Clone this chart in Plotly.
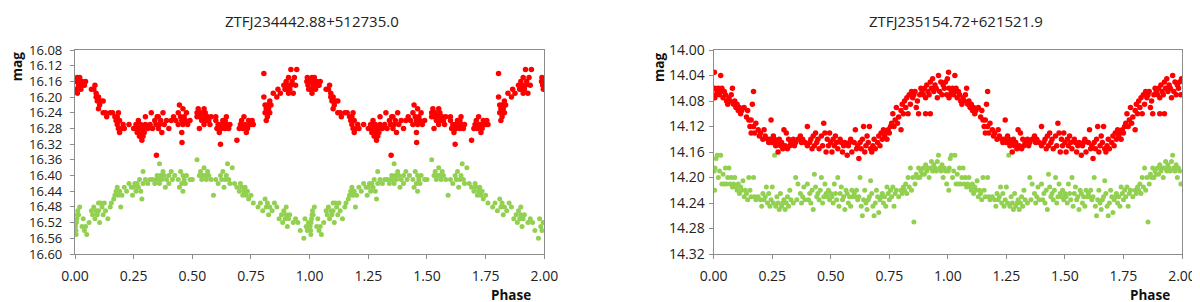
import plotly.graph_objects as go

# ---------------- Data (phase 0-1, folded light curves; plotted twice: 0-1 and 1-2) ----------------
# Left star: ZTFJ234442.88+512735.0
left_red_phase = [0.005,0.01,0.015,0.02,0.025,0.01,0.03,0.035,0.04,0.045,0.02,0.005,
    0.07,0.08,0.085,0.09,0.095,0.1,0.105,0.11,0.09,0.1,0.12,0.12,0.13,0.135,
    0.15,0.16,0.17,0.175,0.18,0.18,0.185,0.19,0.19,0.2,0.21,0.205,0.185,
    0.23,0.25,0.26,0.265,0.27,0.275,0.28,0.28,0.285,0.29,0.29,0.295,0.3,0.26,0.27,0.3,
    0.31,0.32,0.325,0.33,0.34,0.345,0.35,0.355,0.36,0.365,0.37,0.375,0.38,0.39,0.4,0.355,0.347,
    0.41,0.42,0.43,0.44,0.44,0.445,0.45,0.455,0.455,0.46,0.46,0.465,0.47,0.475,0.48,0.456,0.49,
    0.52,0.525,0.53,0.535,0.54,0.545,0.55,0.555,0.56,0.565,0.57,0.575,0.53,0.52,0.58,0.55,
    0.6,0.605,0.61,0.615,0.62,0.625,0.63,0.635,0.64,0.645,0.65,0.655,0.66,0.62,0.6,0.64,
    0.69,0.7,0.705,0.71,0.715,0.72,0.725,0.73,0.735,0.74,0.745,0.75,0.755,0.76,
    0.805,0.805,0.81,0.81,0.815,0.82,0.82,0.825,0.83,0.83,0.815,0.835,
    0.845,0.86,0.865,0.875,
    0.89,0.895,0.9,0.905,0.91,0.915,0.92,0.92,0.925,0.93,0.935,0.94,0.945,0.91,0.9,
    0.988,0.99,0.993,0.996,0.998]
left_red_mag = [16.16,16.15,16.17,16.16,16.18,16.19,16.16,16.17,16.17,16.16,16.15,16.18,
    16.18,16.18,16.17,16.20,16.21,16.20,16.22,16.21,16.19,16.23,16.21,16.24,16.24,16.25,
    16.24,16.24,16.25,16.26,16.27,16.25,16.28,16.26,16.29,16.28,16.28,16.27,16.24,
    16.27,16.28,16.27,16.29,16.28,16.30,16.27,16.29,16.31,16.28,16.30,16.29,16.27,16.28,16.26,16.25,
    16.28,16.27,16.24,16.28,16.26,16.27,16.25,16.28,16.27,16.26,16.29,16.24,16.27,16.26,16.28,16.25,16.348,
    16.26,16.25,16.26,16.27,16.24,16.22,16.25,16.26,16.29,16.23,16.27,16.25,16.26,16.24,16.27,16.316,16.26,
    16.24,16.23,16.25,16.24,16.26,16.25,16.27,16.24,16.26,16.25,16.26,16.27,16.28,16.25,16.25,16.23,
    16.26,16.28,16.27,16.29,16.27,16.28,16.26,16.27,16.28,16.25,16.27,16.28,16.27,16.32,16.25,16.26,
    16.31,16.28,16.27,16.26,16.28,16.25,16.27,16.29,16.28,16.26,16.27,16.27,16.26,16.27,
    16.14,16.20,16.22,16.24,16.23,16.22,16.25,16.23,16.21,16.24,16.26,16.22,
    16.19,16.20,16.18,16.19,
    16.17,16.18,16.16,16.17,16.15,16.18,16.13,16.17,16.16,16.19,16.15,16.17,16.13,16.19,16.18,
    16.16,16.15,16.17,16.18,16.16]

left_green_phase = [0.002,0.004,0.006,0.008,0.01,0.012,0.005,0.015,0.02,
    0.03,0.035,0.04,0.045,0.05,
    0.06,0.07,0.075,0.08,0.085,0.09,0.095,0.1,0.1,0.105,0.11,0.115,0.12,0.125,0.13,0.14,
    0.15,0.155,0.165,0.17,0.175,0.18,0.185,0.19,0.195,0.2,0.21,
    0.22,0.23,0.24,0.245,0.25,0.255,0.26,0.265,0.27,0.275,0.28,0.285,0.29,0.29,0.3,
    0.31,0.32,0.33,0.34,0.345,0.35,0.355,0.36,0.36,0.365,0.37,0.375,0.38,0.385,0.39,0.4,0.4,0.41,0.415,
    0.425,0.44,0.445,0.45,0.455,0.46,0.46,0.465,0.47,0.475,0.49,0.5,
    0.52,0.53,0.535,0.54,0.545,0.55,0.555,0.56,0.565,0.57,0.58,0.59,0.6,0.61,0.62,
    0.625,0.63,0.635,0.64,0.645,0.65,0.655,0.66,0.67,0.68,0.69,0.7,0.705,
    0.71,0.715,0.72,0.725,0.73,0.735,0.74,0.75,0.76,
    0.78,0.79,0.8,0.81,0.815,0.82,0.825,0.83,0.84,0.85,0.86,0.87,0.88,0.885,0.89,0.895,0.9,0.9,0.905,0.91,0.915,
    0.93,0.94,0.95,0.96,0.975,0.98,0.985,0.99,0.995]
left_green_mag = [16.53,16.54,16.52,16.51,16.50,16.49,16.55,16.50,16.48,
    16.53,16.51,16.54,16.53,16.55,
    16.52,16.49,16.50,16.48,16.51,16.49,16.50,16.47,16.49,16.52,16.47,16.48,16.50,16.47,16.49,16.51,
    16.48,16.47,16.46,16.45,16.44,16.43,16.45,16.44,16.48,16.45,16.43,
    16.44,16.42,16.43,16.45,16.43,16.42,16.44,16.42,16.43,16.41,16.44,16.46,16.39,16.42,16.41,
    16.42,16.41,16.41,16.42,16.41,16.40,16.41,16.37,16.42,16.40,16.41,16.39,16.40,16.43,16.41,16.42,16.40,16.39,16.41,
    16.40,16.41,16.43,16.39,16.42,16.40,16.44,16.41,16.42,16.40,16.41,16.41,
    16.36,16.40,16.39,16.41,16.40,16.38,16.40,16.41,16.39,16.40,16.41,16.45,16.41,16.42,16.40,
    16.41,16.39,16.43,16.41,16.40,16.37,16.41,16.42,16.38,16.42,16.43,16.44,16.42,
    16.43,16.45,16.44,16.43,16.45,16.44,16.46,16.45,16.47,
    16.48,16.47,16.49,16.46,16.48,16.47,16.50,16.48,16.49,16.47,16.48,16.51,16.50,16.52,16.49,16.51,16.50,16.48,16.53,16.51,16.50,
    16.52,16.51,16.52,16.54,16.56,16.51,16.53,16.54,16.52]

# Right star: ZTFJ235154.72+621521.9
right_red_phase = [0.003,0.005,0.005,0.01,0.015,0.02,0.025,0.03,0.03,0.035,0.04,0.045,0.05,
    0.055,0.06,0.065,0.07,0.075,0.08,0.085,0.09,0.095,0.1,0.105,0.11,0.115,0.12,0.13,0.14,0.145,0.15,0.16,0.17,0.165,
    0.155,0.16,0.17,0.175,0.18,0.19,0.195,0.2,0.21,0.215,0.22,0.23,0.235,0.24,0.245,0.25,0.255,0.26,0.265,
    0.27,0.275,0.28,0.285,0.29,0.295,0.3,0.305,0.31,0.315,0.32,0.325,0.33,0.34,0.345,0.35,0.36,0.37,0.375,0.38,0.39,0.4,0.4,0.41,0.415,0.42,
    0.425,0.43,0.435,0.44,0.445,0.45,0.46,0.465,0.47,0.475,0.48,0.485,0.49,0.495,0.5,0.505,0.51,0.515,0.52,0.525,0.53,0.54,0.545,0.55,
    0.555,0.56,0.57,0.575,0.58,0.585,0.59,0.6,0.605,0.61,0.615,0.62,0.625,0.63,0.635,0.64,0.645,0.65,0.655,0.66,0.665,0.67,0.675,0.68,0.685,0.69,0.7,
    0.705,0.71,0.715,0.72,0.725,0.73,0.735,0.74,0.745,0.75,0.755,0.76,0.765,0.77,0.775,0.78,0.785,0.79,0.8,0.8,
    0.805,0.81,0.815,0.82,0.825,0.83,0.835,0.84,0.845,0.85,0.855,0.86,0.865,0.87,0.875,0.88,0.885,0.89,0.895,0.9,
    0.905,0.91,0.915,0.92,0.925,0.93,0.935,0.94,0.945,0.95,0.955,0.96,0.965,0.97,0.975,0.98,0.985,0.99,0.995,0.998,0.905,0.925]
right_red_mag = [14.035,14.060,14.075,14.070,14.065,14.060,14.070,14.040,14.065,14.060,14.075,14.065,14.070,
    14.080,14.085,14.075,14.080,14.070,14.060,14.085,14.080,14.090,14.085,14.095,14.090,14.100,14.095,14.090,14.105,14.095,14.110,14.110,14.065,14.085,
    14.120,14.130,14.120,14.130,14.115,14.125,14.135,14.130,14.140,14.125,14.135,14.140,14.145,14.140,14.110,14.145,14.135,14.140,14.150,
    14.145,14.160,14.140,14.150,14.145,14.155,14.125,14.150,14.130,14.155,14.140,14.150,14.145,14.140,14.150,14.145,14.140,14.135,14.145,14.140,14.145,14.120,14.150,14.145,14.140,14.155,
    14.135,14.150,14.130,14.145,14.140,14.155,14.135,14.150,14.115,14.130,14.160,14.140,14.150,14.130,14.145,14.160,14.140,14.150,14.135,14.145,14.155,14.140,14.145,14.160,
    14.150,14.145,14.165,14.150,14.145,14.140,14.160,14.145,14.125,14.155,14.150,14.170,14.145,14.155,14.140,14.120,14.160,14.150,14.135,14.145,14.120,14.155,14.160,14.150,14.140,14.155,14.145,
    14.135,14.150,14.130,14.140,14.125,14.135,14.130,14.140,14.125,14.130,14.120,14.115,14.100,14.120,14.110,14.090,14.115,14.105,14.095,14.125,
    14.085,14.100,14.080,14.090,14.075,14.100,14.070,14.085,14.065,14.075,14.070,14.065,14.090,14.080,14.100,14.070,14.060,14.065,14.070,14.060,
    14.075,14.055,14.065,14.070,14.050,14.060,14.045,14.065,14.055,14.060,14.075,14.040,14.065,14.050,14.070,14.055,14.060,14.050,14.070,14.045,14.100,14.100]

right_green_phase = [0.002,0.004,0.006,0.01,0.015,0.02,0.025,0.03,0.035,0.04,0.045,0.05,0.055,0.06,0.065,
    0.07,0.075,0.08,0.085,0.09,0.095,0.1,0.105,0.11,0.115,0.12,0.125,0.13,0.135,0.14,0.145,0.15,0.155,0.16,0.17,0.175,
    0.18,0.19,0.2,0.205,0.21,0.215,0.22,0.225,0.23,0.235,0.24,0.245,0.25,0.255,0.26,0.265,0.27,0.275,0.28,0.285,0.29,0.295,0.3,
    0.305,0.31,0.315,0.32,0.325,0.33,0.34,0.35,0.355,0.36,0.37,0.375,0.38,0.385,0.39,0.4,0.405,0.41,0.415,0.42,0.425,0.43,0.435,0.44,0.445,0.45,
    0.455,0.46,0.465,0.47,0.475,0.48,0.485,0.49,0.495,0.5,0.505,0.51,0.515,0.52,0.525,0.53,0.535,0.54,0.545,0.55,0.555,0.56,0.565,0.57,0.575,0.58,0.585,0.59,0.595,0.6,
    0.605,0.61,0.615,0.62,0.625,0.63,0.635,0.64,0.645,0.65,0.655,0.66,0.665,0.67,0.675,0.68,0.685,0.69,0.695,0.7,0.705,0.71,0.715,0.72,0.725,0.73,0.735,0.74,0.745,0.75,
    0.755,0.76,0.765,0.77,0.775,0.78,0.79,0.8,0.805,0.81,0.815,0.82,0.825,0.83,0.835,0.84,0.845,0.85,0.855,0.86,0.865,0.87,0.875,0.88,0.885,0.89,0.895,
    0.9,0.905,0.91,0.915,0.92,0.925,0.93,0.935,0.94,0.945,0.95,0.955,0.96,0.965,0.97,0.975,0.98,0.985,0.99,0.995]
right_green_mag = [14.190,14.220,14.185,14.170,14.165,14.200,14.190,14.165,14.210,14.195,14.210,14.185,14.210,14.200,14.185,
    14.210,14.200,14.215,14.210,14.200,14.215,14.220,14.210,14.225,14.215,14.220,14.205,14.230,14.220,14.225,14.235,14.200,14.220,14.230,14.200,14.230,
    14.235,14.230,14.235,14.245,14.225,14.235,14.230,14.215,14.240,14.225,14.245,14.235,14.215,14.240,14.165,14.245,14.230,14.240,14.250,14.225,14.245,14.240,14.235,
    14.250,14.240,14.230,14.245,14.220,14.235,14.240,14.200,14.235,14.210,14.225,14.240,14.230,14.215,14.235,14.210,14.235,14.225,14.240,14.220,14.250,14.195,14.215,14.230,14.225,14.235,
    14.220,14.200,14.240,14.230,14.210,14.225,14.230,14.220,14.235,14.225,14.230,14.240,14.210,14.225,14.235,14.200,14.245,14.225,14.215,14.235,14.230,14.250,14.220,14.225,14.240,14.230,14.245,14.220,14.230,14.225,
    14.230,14.220,14.235,14.230,14.200,14.245,14.260,14.235,14.220,14.240,14.250,14.235,14.230,14.205,14.225,14.245,14.260,14.240,14.220,14.230,14.255,14.235,14.230,14.225,14.240,14.230,14.245,14.215,14.225,14.235,
    14.220,14.230,14.215,14.245,14.225,14.220,14.230,14.220,14.225,14.215,14.220,14.210,14.225,14.200,14.215,14.185,14.220,14.200,14.270,14.210,14.195,14.200,14.185,14.200,14.190,14.195,14.185,
    14.195,14.180,14.190,14.185,14.200,14.185,14.175,14.190,14.180,14.185,14.190,14.175,14.165,14.185,14.190,14.180,14.200,14.185,14.190,14.210]

titles = ["ZTFJ234442.88+512735.0", "ZTFJ235154.72+621521.9"]
x_ticks = [0.0, 0.25, 0.5, 0.75, 1.0, 1.25, 1.5, 1.75, 2.0]
left_y_ticks = [16.08,16.12,16.16,16.20,16.24,16.28,16.32,16.36,16.40,16.44,16.48,16.52,16.56,16.60]
right_y_ticks = [14.00,14.04,14.08,14.12,14.16,14.20,14.24,14.28,14.32]

RED = "#FF0000"
GREEN = "#92D050"
AXIS = "#8C8C8C"
FONT = "Open Sans"


def two_cycles(phase, mag):
    return list(phase) + [p + 1 for p in phase], list(mag) + list(mag)


fig = go.Figure()

panels = [
    ("x", "y", left_red_phase, left_red_mag, left_green_phase, left_green_mag),
    ("x2", "y2", right_red_phase, right_red_mag, right_green_phase, right_green_mag),
]
for xa, ya, rp, rm, gp, gm in panels:
    gx, gy = two_cycles(gp, gm)
    rx, ry = two_cycles(rp, rm)
    fig.add_trace(go.Scatter(x=gx, y=gy, mode="markers", xaxis=xa, yaxis=ya,
                             marker=dict(color=GREEN, size=5, line=dict(width=0)),
                             showlegend=False, hoverinfo="skip"))
    fig.add_trace(go.Scatter(x=rx, y=ry, mode="markers", xaxis=xa, yaxis=ya,
                             marker=dict(color=RED, size=5.5, line=dict(width=0)),
                             showlegend=False, hoverinfo="skip"))

W, H = 1200, 302
ML, MR, MT, MB = 67, 22, 42, 56
pw = W - ML - MR
dom_left = [0, (538 - ML) / pw]
dom_right = [(708 - ML) / pw, 1]

xcommon = dict(range=[0, 2], tickvals=x_ticks, ticktext=[f"{v:.2f}" for v in x_ticks],
               showgrid=False, zeroline=False, showline=True, linecolor=AXIS, linewidth=1.3,
               mirror=True, ticks="outside", ticklen=4, tickcolor=AXIS,
               tickfont=dict(family=FONT, size=14, color="#222222"), ticklabelstandoff=5)
ycommon = dict(autorange=False, showgrid=False, zeroline=False, showline=True, linecolor=AXIS,
               linewidth=1.3, mirror=True, ticks="outside", ticklen=4, tickcolor=AXIS)

fig.update_layout(
    width=W, height=H,
    margin=dict(l=ML, r=MR, t=MT, b=MB),
    paper_bgcolor="white", plot_bgcolor="white",
    xaxis=dict(domain=dom_left, anchor="y", **xcommon),
    yaxis=dict(domain=[0, 1], anchor="x", range=[16.60, 16.08], tickvals=left_y_ticks,
               ticktext=[f"{v:.2f}" for v in left_y_ticks],
               tickfont=dict(family=FONT, size=13, color="#222222"), ticklabelstandoff=5,
               **ycommon),
    xaxis2=dict(domain=dom_right, anchor="y2", **xcommon),
    yaxis2=dict(domain=[0, 1], anchor="x2", range=[14.32, 14.00], tickvals=right_y_ticks,
                ticktext=[f"{v:.2f}" for v in right_y_ticks],
                tickfont=dict(family=FONT, size=14, color="#222222"), ticklabelstandoff=1,
                **ycommon),
)


def px_x(px):
    return (px - ML) / pw


def px_y(py):
    return (H - MB - py) / (H - MT - MB)


ann = []
for cx, t in [(305, titles[0]), (951, titles[1])]:
    ann.append(dict(text=t, x=px_x(cx), y=px_y(13), xref="paper", yref="paper",
                    showarrow=False, xanchor="center", yanchor="middle",
                    font=dict(family=FONT, size=15, color="#222222")))
for cx in [505, 1146]:
    ann.append(dict(text="<b>Phase</b>", x=px_x(cx), y=px_y(287), xref="paper", yref="paper",
                    showarrow=False, xanchor="center", yanchor="middle",
                    font=dict(family=FONT, size=13.5, color="#111111")))
for cx in [9, 653]:
    ann.append(dict(text="<b>mag</b>", x=px_x(cx), y=px_y(59), xref="paper", yref="paper",
                    showarrow=False, xanchor="center", yanchor="middle", textangle=-90,
                    font=dict(family=FONT, size=13.5, color="#111111")))
fig.update_layout(annotations=ann)

fig.write_html("out.html")
